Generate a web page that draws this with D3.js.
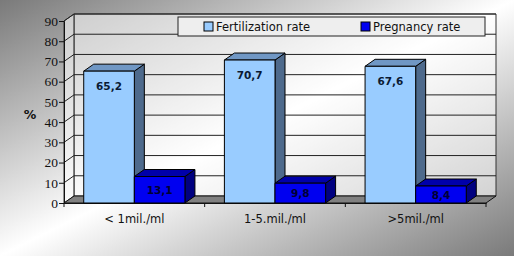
<!DOCTYPE html>
<html>
<head>
<meta charset="UTF-8">
<script src="https://d3js.org/d3.v7.min.js"></script>
<style>
  body { margin: 0; }
  svg { display: block; }
</style>
</head>
<body>
<div id="chart"></div>
<script>
// chart data
const categories = ["< 1mil./ml", "1-5.mil./ml", ">5mil./ml"];
const seriesNames = ["Fertilization rate", "Pregnancy rate"];
const fertilization = [65.2, 70.7, 67.6];
const pregnancy = [13.1, 9.8, 8.4];
const yTicks = [0, 10, 20, 30, 40, 50, 60, 70, 80, 90];

const W = 514, H = 256;
const depth = {dx: 10, dy: -7};
const fmt = v => String(v).replace(".", ",");

const svg = d3.select("#chart").append("svg")
    .attr("width", W).attr("height", H);

// background gradient
const defs = svg.append("defs");
const bg = defs.append("linearGradient").attr("id", "bg")
    .attr("x1", 0).attr("y1", 0).attr("x2", 1).attr("y2", 1);
bg.append("stop").attr("offset", 0).attr("stop-color", "#7a7a7a");
bg.append("stop").attr("offset", 0.5).attr("stop-color", "#ffffff");
bg.append("stop").attr("offset", 1).attr("stop-color", "#7a7a7a");
svg.append("rect").attr("width", W).attr("height", H).attr("fill", "url(#bg)");

const y = d3.scaleLinear().domain([0, 90]).range([203, 21]);
const x0 = d3.scaleBand().domain(categories).range([64, 486]);
const x1 = d3.scaleBand().domain(seriesNames).range([0, x0.bandwidth()]).paddingOuter(0.39);

const left = x0.range()[0], right = x0.range()[1];
const pts = a => a.map(p => p.join(",")).join(" ");

// walls
svg.append("polygon")
    .attr("points", pts([[left + depth.dx, y(90) + depth.dy], [right + depth.dx, y(90) + depth.dy],
                         [right + depth.dx, y(0) + depth.dy], [left + depth.dx, y(0) + depth.dy]]))
    .attr("fill", "#fff").attr("fill-opacity", 0.55)
    .attr("stroke", "#333");
svg.append("polygon")
    .attr("points", pts([[left, y(90)], [left + depth.dx, y(90) + depth.dy],
                         [left + depth.dx, y(0) + depth.dy], [left, y(0)]]))
    .attr("fill", "#fff").attr("fill-opacity", 0.55)
    .attr("stroke", "#333");

// gridlines
yTicks.slice(1).forEach(t => {
  svg.append("polyline")
      .attr("points", pts([[left, y(t)], [left + depth.dx, y(t) + depth.dy], [right + depth.dx, y(t) + depth.dy]]))
      .attr("fill", "none").attr("stroke", "#222").attr("stroke-width", 1);
});

// floor
svg.append("polygon")
    .attr("points", pts([[left, y(0)], [right, y(0)], [right + depth.dx, y(0) + depth.dy], [left + depth.dx, y(0) + depth.dy]]))
    .attr("fill", "#808080").attr("stroke", "#111");

// y axis
const yAxis = d3.axisLeft(y).tickValues(yTicks).tickSize(5).tickPadding(1);
const gy = svg.append("g").attr("transform", `translate(${left},0)`).call(yAxis);
gy.select(".domain").attr("stroke", "#111");
gy.selectAll(".tick line").attr("stroke", "#111");
gy.selectAll("text").attr("font-family", "'Liberation Serif', serif")
    .attr("font-size", 13.5).attr("fill", "#111");

// x axis
const gx = svg.append("g").attr("transform", `translate(0,${y(0)})`)
    .call(d3.axisBottom(x0).tickSize(0).tickPadding(12));
gx.select(".domain").attr("stroke", "#111");
gx.selectAll("text").attr("font-family", "'DejaVu Sans', sans-serif")
    .attr("font-size", 11.5).attr("fill", "#111");
// category separators
[left, ...categories.slice(1).map(c => x0(c)), right].forEach(xv => {
  svg.append("line").attr("x1", xv).attr("x2", xv)
      .attr("y1", y(0)).attr("y2", y(0) + 4).attr("stroke", "#111");
});

svg.append("text").attr("x", 30).attr("y", 119).attr("text-anchor", "middle")
    .attr("font-family", "'DejaVu Sans', sans-serif").attr("font-weight", "bold")
    .attr("font-size", 12.5).attr("fill", "#111").text("%");

// bars
const colors = {
  "Fertilization rate": {front: "#99ccff", side: "#4e6a8c", top: "#7097c4", label: "#0a1a33"},
  "Pregnancy rate": {front: "#0000f0", side: "#000080", top: "#0000aa", label: "#000033"}
};
const seriesValues = {"Fertilization rate": fertilization, "Pregnancy rate": pregnancy};

categories.forEach((cat, i) => {
  seriesNames.forEach(s => {
    const v = seriesValues[s][i];
    const c = colors[s];
    const bx = x0(cat) + x1(s), bw = x1.bandwidth();
    const top = y(v), bot = y(0);
    const g = svg.append("g").attr("stroke", "#000").attr("stroke-width", 1).attr("stroke-linejoin", "round");
    g.append("polygon").attr("fill", c.side)
        .attr("points", pts([[bx + bw, top], [bx + bw + depth.dx, top + depth.dy],
                             [bx + bw + depth.dx, bot + depth.dy], [bx + bw, bot]]));
    g.append("polygon").attr("fill", c.top)
        .attr("points", pts([[bx, top], [bx + depth.dx, top + depth.dy],
                             [bx + bw + depth.dx, top + depth.dy], [bx + bw, top]]));
    g.append("rect").attr("x", bx).attr("y", top).attr("width", bw).attr("height", bot - top)
        .attr("fill", c.front);
    const ly = s === "Pregnancy rate" ? (top + bot) / 2 + 4 : top + 19;
    svg.append("text").attr("x", bx + bw / 2).attr("y", ly).attr("text-anchor", "middle")
        .attr("font-family", "'DejaVu Sans', sans-serif").attr("font-weight", "bold")
        .attr("font-size", 10.5).attr("fill", c.label).text(fmt(v));
  });
});

// legend
const lg = svg.append("g").attr("transform", "translate(178,17)");
lg.append("rect").attr("width", 307).attr("height", 19)
    .attr("fill", "#eeeeee").attr("stroke", "#222");
const legendX = [26, 183];
seriesNames.forEach((s, i) => {
  lg.append("rect").attr("x", legendX[i]).attr("y", 5).attr("width", 9).attr("height", 9)
      .attr("fill", colors[s].front).attr("stroke", "#000");
  lg.append("text").attr("x", legendX[i] + 12).attr("y", 14)
      .attr("font-family", "'DejaVu Sans', sans-serif").attr("font-size", 11.5)
      .attr("fill", "#111").text(s);
});
</script>
</body>
</html>
